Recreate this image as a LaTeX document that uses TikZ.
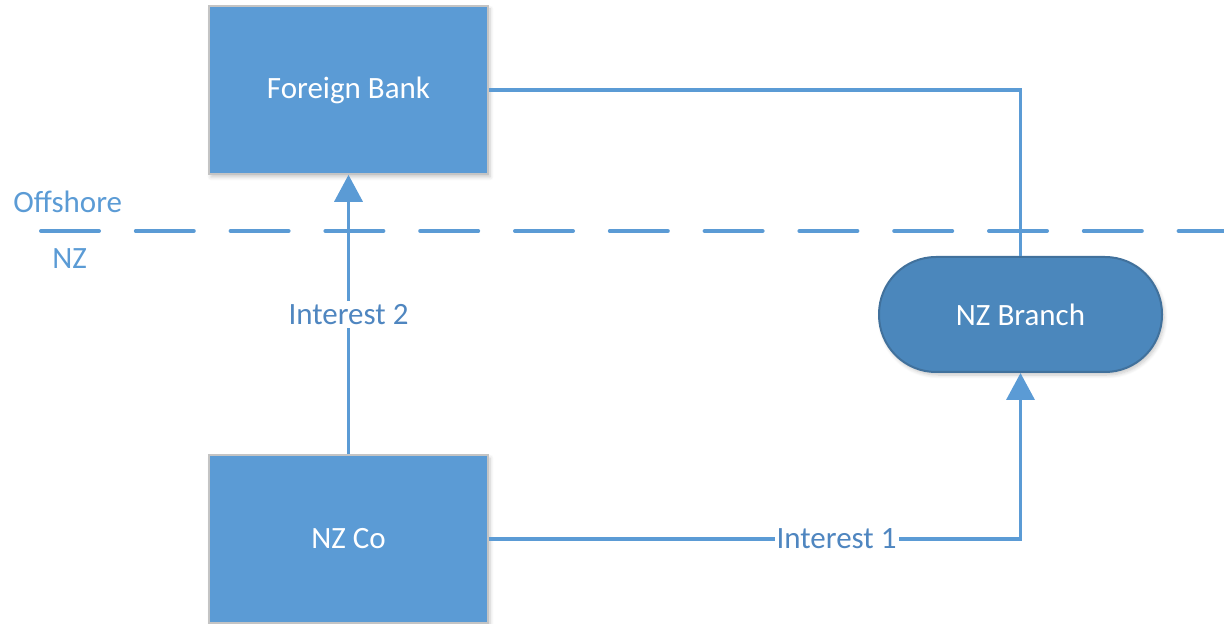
\documentclass[tikz,border=0pt]{standalone}
\usepackage{fontspec}
\setmainfont{Carlito}
\usetikzlibrary{arrows.meta,shadows.blur}

\definecolor{boxblue}{HTML}{5B9BD5}
\definecolor{branchblue}{HTML}{4B87BC}
\definecolor{branchedge}{HTML}{41719C}
\definecolor{boxedge}{HTML}{C4C4C4}
\definecolor{linkblue}{HTML}{5B9BD5}
\definecolor{labelblue}{HTML}{4F86C0}

\tikzset{
  entity/.style={rectangle, fill=boxblue, draw=boxedge, line width=0.8pt,
    minimum width=139.5pt, minimum height=84pt, inner sep=0pt,
    text=white, font=\fontsize{15.5}{18}\selectfont,
    blur shadow={shadow xshift=1pt, shadow yshift=-1.5pt,
      shadow blur steps=6, shadow opacity=22}},
  branch/.style={rectangle, rounded corners=28.5pt, fill=branchblue,
    draw=branchedge, line width=1pt,
    minimum width=141.5pt, minimum height=57.5pt, inner sep=0pt,
    text=white, font=\fontsize{15.5}{18}\selectfont,
    blur shadow={shadow xshift=1pt, shadow yshift=-1.5pt,
      shadow blur steps=6, shadow opacity=22}},
  link/.style={draw=linkblue, line width=1.8pt},
  flow/.style={link, -{Triangle[width=14pt,length=13.5pt]}},
  linklabel/.style={fill=white, text=labelblue, inner xsep=1pt, inner ysep=1.5pt,
    font=\fontsize{15.5}{18}\selectfont},
  zonelabel/.style={text=linkblue, inner sep=0pt, anchor=base west,
    font=\fontsize{15.5}{18}\selectfont},
  border/.style={draw=linkblue, line width=2pt, line cap=round,
    dash pattern=on 29pt off 18.4pt}
}

\begin{document}
\begin{tikzpicture}[x=0.5pt, y=-0.5pt]
  \useasboundingbox (0,0) rectangle (1224,624);
  \clip (0,0) rectangle (1224,624);

  % jurisdiction boundary
  \coordinate (bstart) at (41,231);
  \coordinate (bend) at (1240,231);
  \draw[border] (bstart) -- (bend);
  \node[zonelabel] (offshore) at (13,213) {Offshore};
  \node[zonelabel] (nz) at (52,269) {NZ};

  % entities
  \node[entity] (fb) at (348.5,90) {Foreign Bank};
  \node[entity] (nzco) at (348.5,539) {NZ Co};
  \node[branch] (br) at (1020.5,314.5) {NZ Branch};

  % connections
  \draw[link] (fb.east) -| (br.north);
  \draw[flow] (nzco.north) -- node[linklabel] (i2) {Interest 2} (fb.south);
  \draw[flow] (nzco.east) -| node[linklabel, pos=0.327] (i1) {Interest 1} (br.south);
\end{tikzpicture}
\end{document}
